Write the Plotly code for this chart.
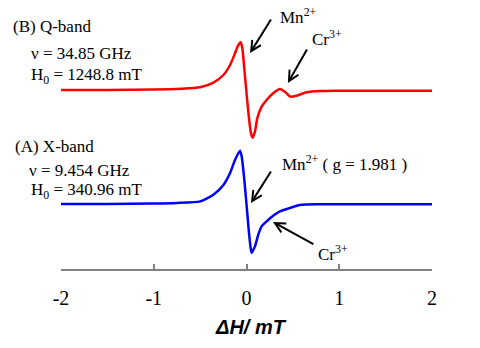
import plotly.graph_objects as go

# Field offset (mT) and derivative signal (arb. units)
field_x_q = [-2.0, -1.5, -1.0, -0.7, -0.5, -0.357, -0.249, -0.177, -0.124, -0.088, -0.062, -0.045,
             -0.024, 0.002, 0.027, 0.048, 0.066, 0.091, 0.116, 0.163, 0.217, 0.288, 0.36, 0.414,
             0.475, 0.54, 0.647, 0.79, 1.0, 1.5, 2.0]
signal_q = [0.0, 0.1, 0.4, 1.2, 2.7, 7.3, 15, 25, 36.7, 45, 47.7, 41.7,
            21.7, -5, -28.3, -43.3, -47.7, -41.7, -28.3, -16.7, -10, -3.3, 1, -1.7,
            -6.7, -5.7, -2.3, -1, -0.7, -0.7, -0.7]

field_x_x = [-2.0, -1.5, -1.0, -0.75, -0.5, -0.357, -0.249, -0.177, -0.124, -0.07, -0.052,
             -0.027, 0.002, 0.027, 0.045, 0.056, 0.091, 0.127, 0.163, 0.217, 0.271, 0.36, 0.468,
             0.575, 0.79, 1.0, 1.5, 2.0]
signal_x = [0.0, 0.1, 0.4, 1.0, 2.6, 9.3, 19, 31, 44, 53.3, 47.6,
            27.6, -2.4, -29, -44, -48.7, -42.4, -30.7, -22.4, -17.4, -13, -7.4, -4,
            -1, -0.3, -0.3, -0.3, -0.3]

tick_vals = [-2, -1, 0, 1, 2]
tick_text = ["-2", "-1", "0", "1", "2"]

offset_q = 179
offset_x = 65

fig = go.Figure()
fig.add_trace(go.Scatter(x=field_x_q, y=[v + offset_q for v in signal_q], mode="lines",
                         line=dict(color="#FF0000", width=2.5, shape="spline", smoothing=0.6),
                         showlegend=False))
fig.add_trace(go.Scatter(x=field_x_x, y=[v + offset_x for v in signal_x], mode="lines",
                         line=dict(color="#0000FF", width=2.5, shape="spline", smoothing=0.6),
                         showlegend=False))

serif = "Liberation Serif"
# side labels in paper coordinates
side_labels = [
    ("(B) Q-band", -0.135, 0.900),
    ("ν = 34.85 GHz", -0.086, 0.800),
    ("H<sub>0</sub> = 1248.8 mT", -0.086, 0.718),
    ("(A) X-band", -0.129, 0.454),
    ("ν = 9.454 GHz", -0.092, 0.366),
    ("H<sub>0</sub> = 340.96 mT", -0.086, 0.291),
]
for t, x, y in side_labels:
    fig.add_annotation(x=x, y=y, xref="paper", yref="paper", text=t, showarrow=False,
                       xanchor="left", yanchor="middle",
                       font=dict(family=serif, size=17, color="black"))

peak_labels = [
    ("Mn<sup>2+</sup>", 0.339, 253),
    ("Cr<sup>3+</sup>", 0.683, 231),
    ("Mn<sup>2+</sup> ( g = 1.981 )", 0.36, 106),
    ("Cr<sup>3+</sup>", 0.745, 16),
]
for t, x, y in peak_labels:
    fig.add_annotation(x=x, y=y, xref="x", yref="y", text=t, showarrow=False,
                       xanchor="left", yanchor="middle",
                       font=dict(family=serif, size=17, color="black"))

arrows = [
    (0.038, 216, 0.274, 251),
    (0.446, 186, 0.661, 221),
    (0.048, 66, 0.274, 99),
    (0.285, 47, 0.737, 24),
]
for x, y, ax, ay in arrows:
    fig.add_annotation(x=x, y=y, ax=ax, ay=ay, xref="x", yref="y", axref="x", ayref="y",
                       text="", showarrow=True, arrowhead=5, arrowsize=1, arrowwidth=2,
                       arrowcolor="black")

fig.add_annotation(x=0.512, y=-0.214, xref="paper", yref="paper", text="<b><i>ΔH/ mT</i></b>",
                   showarrow=False, xanchor="center", yanchor="middle",
                   font=dict(family="Liberation Sans", size=20, color="black"))

fig.update_layout(
    width=480, height=348,
    margin=dict(l=61, r=48, t=0, b=79),
    paper_bgcolor="white", plot_bgcolor="white",
    xaxis=dict(range=[-2, 2], tickvals=tick_vals, ticktext=tick_text, showgrid=False,
               zeroline=False, showline=True, linecolor="#808080", linewidth=1.5,
               ticks="inside", ticklen=5, tickcolor="#808080", tickwidth=1.5,
               ticklabelstandoff=10,
               tickfont=dict(family=serif, size=20, color="black")),
    yaxis=dict(range=[0, 269], visible=False),
)

fig.write_html("out.html")
